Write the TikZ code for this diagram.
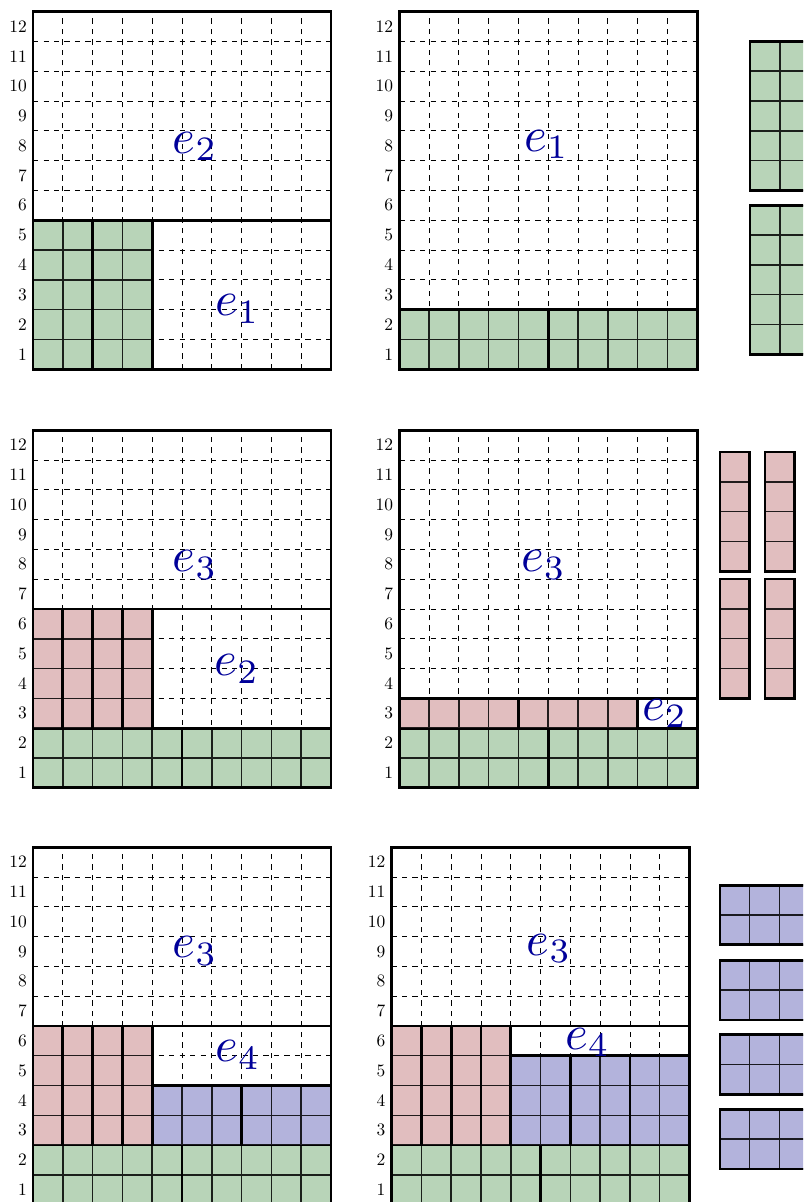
\documentclass[tikz,border=0pt]{standalone}
\usepackage{tikz}
\definecolor{tilegreen}{RGB}{184,212,184}
\definecolor{tilepink}{RGB}{225,190,191}
\definecolor{tileblue}{RGB}{179,179,220}

\begin{document}
\begin{tikzpicture}[x=0.6cm,y=0.6cm,step=1,
    gridline/.style={dashed,line width=0.45pt},
    cellline/.style={line width=0.9pt,draw opacity=0.85},
    bound/.style={line width=1.6pt},
    elabel/.style={blue!60!black,scale=2.8,transform shape}]
  \useasboundingbox (0,0) rectangle (26.95,40.34);
  \clip (0,0) rectangle (26.95,40.34);
  % six boards: dashed grid and row numbers
  \foreach \gx/\gy/\b in {1.11/27.95/1,13.40/27.95/2,1.11/13.9/3,13.40/13.9/4,1.11/-0.09/5,13.14/-0.09/6}{
    \begin{scope}[shift={(\gx,\gy)}]
      \draw[gridline] (0,0) grid (10,12);
      \foreach \r in {1,...,12}
        \node[anchor=east] (row\b-\r) at (0,\r-0.5) {\r};
    \end{scope}
  }
  % green strip at the bottom of boards 2-6
  \foreach \gx/\gy in {13.40/27.95,1.11/13.9,13.40/13.9,1.11/-0.09,13.14/-0.09}{
    \begin{scope}[shift={(\gx,\gy)}]
      \fill[tilegreen] (0,0) rectangle (10,2);
      \draw[cellline] (0,0) grid (10,2);
      \draw[bound] (5,0) -- (5,2) (0,2) -- (10,2);
    \end{scope}
  }
  % pink block of boards 3, 5, 6
  \foreach \gx/\gy in {1.11/13.9,1.11/-0.09,13.14/-0.09}{
    \begin{scope}[shift={(\gx,\gy)}]
      \fill[tilepink] (0,2) rectangle (4,6);
      \draw[cellline] (0,2) grid (4,6);
      \foreach \c in {1,...,4}
        \draw[bound] (\c,2) -- (\c,6);
      \draw[bound] (0,6) -- (10,6);
    \end{scope}
  }
  % board 1
  \begin{scope}[shift={(1.11,27.95)}]
    \fill[tilegreen] (0,0) rectangle (4,5);
    \draw[cellline] (0,0) grid (4,5);
    \draw[bound] (2,0) -- (2,5) (4,0) -- (4,5) (0,5) -- (10,5);
    \draw[bound] (0,0) rectangle (10,12);
    \node[elabel] (e2a) at (5.44,7.47) {$e_2$};
    \node[elabel] (e1a) at (6.86,2.02) {$e_1$};
  \end{scope}
  % board 2
  \begin{scope}[shift={(13.40,27.95)}]
    \draw[bound] (0,0) rectangle (10,12);
    \node[elabel] (e1b) at (4.95,7.53) {$e_1$};
  \end{scope}
  % board 3
  \begin{scope}[shift={(1.11,13.9)}]
    \draw[bound] (0,0) rectangle (10,12);
    \node[elabel] (e3c) at (5.44,7.48) {$e_3$};
    \node[elabel] (e2c) at (6.84,3.99) {$e_2$};
  \end{scope}
  % board 4
  \begin{scope}[shift={(13.40,13.9)}]
    \fill[tilepink] (0,2) rectangle (8,3);
    \draw[cellline] (0,2) grid (8,3);
    \draw[bound] (4,2) -- (4,3) (8,2) -- (8,3) (0,3) -- (10,3);
    \draw[bound] (0,0) rectangle (10,12);
    \node[elabel] (e3d) at (4.85,7.48) {$e_3$};
    \node[elabel] (e2d) at (8.92,2.49) {$e_2$};
  \end{scope}
  % board 5
  \begin{scope}[shift={(1.11,-0.09)}]
    \fill[tileblue] (4,2) rectangle (10,4);
    \draw[cellline] (4,2) grid (10,4);
    \draw[bound] (4,2) -- (4,4) (7,2) -- (7,4) (4,4) -- (10,4);
    \draw[bound] (0,0) rectangle (10,12);
    \node[elabel] (e3e) at (5.44,8.51) {$e_3$};
    \node[elabel] (e4e) at (6.88,5.02) {$e_4$};
  \end{scope}
  % board 6
  \begin{scope}[shift={(13.14,-0.09)}]
    \fill[tileblue] (4,2) rectangle (10,5);
    \draw[cellline] (4,2) grid (10,5);
    \draw[bound] (4,2) -- (4,5) (6,2) -- (6,5) (8,2) -- (8,5) (4,5) -- (10,5);
    \draw[bound] (0,0) rectangle (10,12);
    \node[elabel] (e3f) at (5.29,8.6) {$e_3$};
    \node[elabel] (e4f) at (6.58,5.44) {$e_4$};
  \end{scope}
  % loose tiles on the right
  \foreach \ty in {28.45,33.95}{
    \begin{scope}[shift={(25.17,\ty)}]
      \fill[tilegreen] (0,0) rectangle (2,5);
      \draw[cellline] (0,0) grid (2,5);
      \draw[bound] (0,0) rectangle (2,5);
    \end{scope}
  }
  \foreach \tx in {24.16,25.67}
    \foreach \ty in {16.91,21.17}{
      \begin{scope}[shift={(\tx,\ty)}]
        \fill[tilepink] (0,0) rectangle (1,4);
        \draw[cellline] (0,0) grid (1,4);
        \draw[bound] (0,0) rectangle (1,4);
      \end{scope}
    }
  \foreach \ty in {1.11,3.61,6.11,8.63}{
    \begin{scope}[shift={(24.16,\ty)}]
      \fill[tileblue] (0,0) rectangle (3,2);
      \draw[cellline] (0,0) grid (3,2);
      \draw[bound] (0,0) rectangle (3,2);
    \end{scope}
  }
\end{tikzpicture}
\end{document}
